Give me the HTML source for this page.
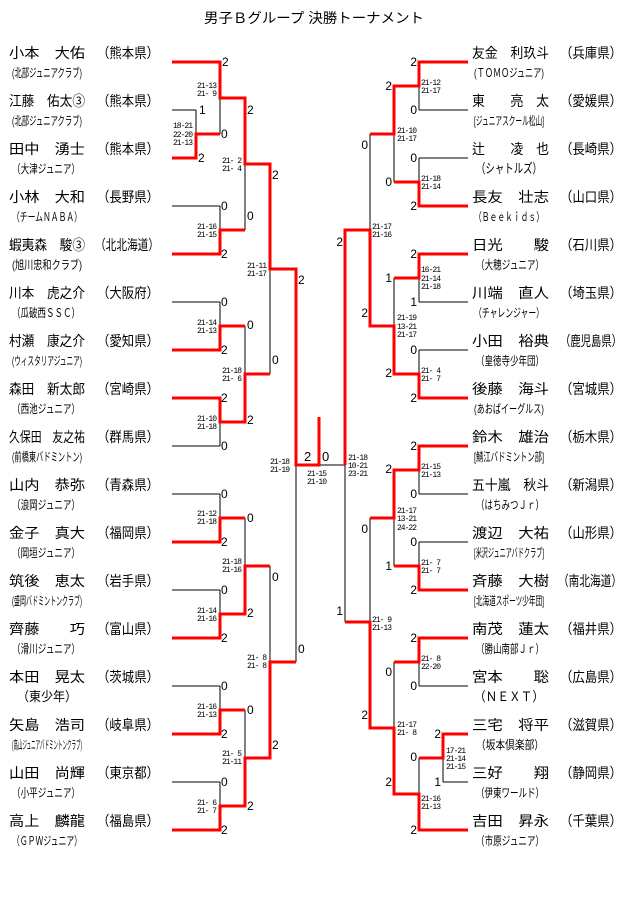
<!DOCTYPE html>
<html><head><meta charset="utf-8"><style>
html,body{margin:0;padding:0;background:#fff;}
svg{display:block;}
.n{font-family:"Liberation Sans","Noto Sans CJK JP",sans-serif;font-size:14px;fill:#000;}
.a{font-family:"Liberation Sans","Noto Sans CJK JP",sans-serif;font-size:12px;fill:#000;}
.d{font-family:"Liberation Sans",sans-serif;font-size:12px;fill:#000;}
.m{font-family:"Liberation Mono",monospace;font-size:8px;fill:#000;}
.r{stroke:#ff0000;stroke-width:3;fill:none;}
.b{stroke:#000;stroke-width:1;fill:none;}
</style></head><body>
<svg width="640" height="905" viewBox="0 0 640 905" xmlns="http://www.w3.org/2000/svg">
<text class="n" x="204" y="23" font-size="13" textLength="220" lengthAdjust="spacingAndGlyphs">男子Ｂグループ 決勝トーナメント</text>

<g class="n">
<text x="9" y="58" textLength="76" lengthAdjust="spacingAndGlyphs">小本　大佑</text><text x="97" y="58" textLength="62" lengthAdjust="spacingAndGlyphs">（熊本県）</text>
<text x="9" y="106" textLength="76" lengthAdjust="spacingAndGlyphs">江藤　佑太③</text><text x="97" y="106" textLength="62" lengthAdjust="spacingAndGlyphs">（熊本県）</text>
<text x="9" y="154" textLength="76" lengthAdjust="spacingAndGlyphs">田中　湧士</text><text x="97" y="154" textLength="62" lengthAdjust="spacingAndGlyphs">（熊本県）</text>
<text x="9" y="202" textLength="76" lengthAdjust="spacingAndGlyphs">小林　大和</text><text x="97" y="202" textLength="62" lengthAdjust="spacingAndGlyphs">（長野県）</text>
<text x="9" y="250" textLength="76" lengthAdjust="spacingAndGlyphs">蝦夷森　駿③</text><text x="95" y="250" textLength="64" lengthAdjust="spacingAndGlyphs">（北北海道）</text>
<text x="9" y="298" textLength="76" lengthAdjust="spacingAndGlyphs">川本　虎之介</text><text x="97" y="298" textLength="62" lengthAdjust="spacingAndGlyphs">（大阪府）</text>
<text x="9" y="346" textLength="76" lengthAdjust="spacingAndGlyphs">村瀬　康之介</text><text x="97" y="346" textLength="62" lengthAdjust="spacingAndGlyphs">（愛知県）</text>
<text x="9" y="394" textLength="76" lengthAdjust="spacingAndGlyphs">森田　新太郎</text><text x="97" y="394" textLength="62" lengthAdjust="spacingAndGlyphs">（宮崎県）</text>
<text x="9" y="442" textLength="76" lengthAdjust="spacingAndGlyphs">久保田　友之祐</text><text x="97" y="442" textLength="62" lengthAdjust="spacingAndGlyphs">（群馬県）</text>
<text x="9" y="490" textLength="76" lengthAdjust="spacingAndGlyphs">山内　恭弥</text><text x="97" y="490" textLength="62" lengthAdjust="spacingAndGlyphs">（青森県）</text>
<text x="9" y="538" textLength="76" lengthAdjust="spacingAndGlyphs">金子　真大</text><text x="97" y="538" textLength="62" lengthAdjust="spacingAndGlyphs">（福岡県）</text>
<text x="9" y="586" textLength="76" lengthAdjust="spacingAndGlyphs">筑後　恵太</text><text x="97" y="586" textLength="62" lengthAdjust="spacingAndGlyphs">（岩手県）</text>
<text x="9" y="634" textLength="76" lengthAdjust="spacingAndGlyphs">齊藤　　巧</text><text x="97" y="634" textLength="62" lengthAdjust="spacingAndGlyphs">（富山県）</text>
<text x="9" y="682" textLength="76" lengthAdjust="spacingAndGlyphs">本田　晃太</text><text x="97" y="682" textLength="62" lengthAdjust="spacingAndGlyphs">（茨城県）</text>
<text x="9" y="730" textLength="76" lengthAdjust="spacingAndGlyphs">矢島　浩司</text><text x="97" y="730" textLength="62" lengthAdjust="spacingAndGlyphs">（岐阜県）</text>
<text x="9" y="778" textLength="76" lengthAdjust="spacingAndGlyphs">山田　尚輝</text><text x="97" y="778" textLength="62" lengthAdjust="spacingAndGlyphs">（東京都）</text>
<text x="9" y="826" textLength="76" lengthAdjust="spacingAndGlyphs">高上　麟龍</text><text x="97" y="826" textLength="62" lengthAdjust="spacingAndGlyphs">（福島県）</text>
</g>
<g class="a">
<text x="12" y="77" textLength="70" lengthAdjust="spacingAndGlyphs">(北部ジュニアクラブ)</text>
<text x="12" y="125" textLength="70" lengthAdjust="spacingAndGlyphs">(北部ジュニアクラブ)</text>
<text x="12" y="173" textLength="68" lengthAdjust="spacingAndGlyphs">（大津ジュニア）</text>
<text x="12" y="221" textLength="70" lengthAdjust="spacingAndGlyphs">（チームＮＡＢＡ）</text>
<text x="12" y="269" textLength="70" lengthAdjust="spacingAndGlyphs">(旭川忠和クラブ)</text>
<text x="12" y="317" textLength="68" lengthAdjust="spacingAndGlyphs">（瓜破西ＳＳＣ）</text>
<text x="12" y="365" textLength="70" lengthAdjust="spacingAndGlyphs">(ウィスタリアジュニア)</text>
<text x="12" y="413" textLength="68" lengthAdjust="spacingAndGlyphs">（西池ジュニア）</text>
<text x="12" y="461" textLength="70" lengthAdjust="spacingAndGlyphs">(前橋東バドミントン)</text>
<text x="12" y="509" textLength="68" lengthAdjust="spacingAndGlyphs">（浪岡ジュニア）</text>
<text x="12" y="557" textLength="68" lengthAdjust="spacingAndGlyphs">（岡垣ジュニア）</text>
<text x="12" y="605" textLength="70" lengthAdjust="spacingAndGlyphs">(盛岡バドミントンクラブ)</text>
<text x="12" y="653" textLength="68" lengthAdjust="spacingAndGlyphs">（滑川ジュニア）</text>
<text x="17" y="701" textLength="60" lengthAdjust="spacingAndGlyphs" font-size="13">（東少年）</text>
<text x="12" y="749" textLength="70" lengthAdjust="spacingAndGlyphs">(高山ジュニアバドミントンクラブ)</text>
<text x="12" y="797" textLength="68" lengthAdjust="spacingAndGlyphs">（小平ジュニア）</text>
<text x="12" y="845" textLength="70" lengthAdjust="spacingAndGlyphs">（ＧＰＷジュニア）</text>
</g>

<g class="n">
<text x="472" y="58" textLength="77" lengthAdjust="spacingAndGlyphs">友金　利玖斗</text><text x="560" y="58" textLength="62" lengthAdjust="spacingAndGlyphs">（兵庫県）</text>
<text x="472" y="106" textLength="77" lengthAdjust="spacingAndGlyphs">東　　亮　太</text><text x="560" y="106" textLength="62" lengthAdjust="spacingAndGlyphs">（愛媛県）</text>
<text x="472" y="154" textLength="77" lengthAdjust="spacingAndGlyphs">辻　　凌　也</text><text x="560" y="154" textLength="62" lengthAdjust="spacingAndGlyphs">（長崎県）</text>
<text x="472" y="202" textLength="77" lengthAdjust="spacingAndGlyphs">長友　壮志</text><text x="560" y="202" textLength="62" lengthAdjust="spacingAndGlyphs">（山口県）</text>
<text x="472" y="250" textLength="77" lengthAdjust="spacingAndGlyphs">日光　　駿</text><text x="560" y="250" textLength="62" lengthAdjust="spacingAndGlyphs">（石川県）</text>
<text x="472" y="298" textLength="77" lengthAdjust="spacingAndGlyphs">川端　直人</text><text x="560" y="298" textLength="62" lengthAdjust="spacingAndGlyphs">（埼玉県）</text>
<text x="472" y="346" textLength="77" lengthAdjust="spacingAndGlyphs">小田　裕典</text><text x="560" y="346" textLength="62" lengthAdjust="spacingAndGlyphs">（鹿児島県）</text>
<text x="472" y="394" textLength="77" lengthAdjust="spacingAndGlyphs">後藤　海斗</text><text x="560" y="394" textLength="62" lengthAdjust="spacingAndGlyphs">（宮城県）</text>
<text x="472" y="442" textLength="77" lengthAdjust="spacingAndGlyphs">鈴木　雄治</text><text x="560" y="442" textLength="62" lengthAdjust="spacingAndGlyphs">（栃木県）</text>
<text x="472" y="490" textLength="77" lengthAdjust="spacingAndGlyphs">五十嵐　秋斗</text><text x="560" y="490" textLength="62" lengthAdjust="spacingAndGlyphs">（新潟県）</text>
<text x="472" y="538" textLength="77" lengthAdjust="spacingAndGlyphs">渡辺　大祐</text><text x="560" y="538" textLength="62" lengthAdjust="spacingAndGlyphs">（山形県）</text>
<text x="472" y="586" textLength="77" lengthAdjust="spacingAndGlyphs">斉藤　大樹</text><text x="558" y="586" textLength="64" lengthAdjust="spacingAndGlyphs">（南北海道）</text>
<text x="472" y="634" textLength="77" lengthAdjust="spacingAndGlyphs">南茂　蓮太</text><text x="560" y="634" textLength="62" lengthAdjust="spacingAndGlyphs">（福井県）</text>
<text x="472" y="682" textLength="77" lengthAdjust="spacingAndGlyphs">宮本　　聡</text><text x="560" y="682" textLength="62" lengthAdjust="spacingAndGlyphs">（広島県）</text>
<text x="472" y="730" textLength="77" lengthAdjust="spacingAndGlyphs">三宅　将平</text><text x="560" y="730" textLength="62" lengthAdjust="spacingAndGlyphs">（滋賀県）</text>
<text x="472" y="778" textLength="77" lengthAdjust="spacingAndGlyphs">三好　　翔</text><text x="560" y="778" textLength="62" lengthAdjust="spacingAndGlyphs">（静岡県）</text>
<text x="472" y="826" textLength="77" lengthAdjust="spacingAndGlyphs">吉田　昇永</text><text x="560" y="826" textLength="62" lengthAdjust="spacingAndGlyphs">（千葉県）</text>
</g>
<g class="a">
<text x="474" y="77" textLength="70" lengthAdjust="spacingAndGlyphs">(ＴＯＭＯジュニア)</text>
<text x="474" y="125" textLength="70" lengthAdjust="spacingAndGlyphs">[ジュニアスクール松山]</text>
<text x="476" y="173" textLength="66" lengthAdjust="spacingAndGlyphs" font-size="13">（シャトルズ）</text>
<text x="474" y="221" textLength="70" lengthAdjust="spacingAndGlyphs">（Ｂｅｅｋｉｄｓ）</text>
<text x="476" y="269" textLength="68" lengthAdjust="spacingAndGlyphs">（大穂ジュニア）</text>
<text x="474" y="317" textLength="70" lengthAdjust="spacingAndGlyphs">（チャレンジャー）</text>
<text x="476" y="365" textLength="68" lengthAdjust="spacingAndGlyphs">（皇徳寺少年団）</text>
<text x="474" y="413" textLength="70" lengthAdjust="spacingAndGlyphs">(あおばイーグルス)</text>
<text x="474" y="461" textLength="70" lengthAdjust="spacingAndGlyphs">[鯖江バドミントン部]</text>
<text x="476" y="509" textLength="68" lengthAdjust="spacingAndGlyphs">（はちみつＪｒ）</text>
<text x="474" y="557" textLength="70" lengthAdjust="spacingAndGlyphs">[米沢ジュニアバドクラブ]</text>
<text x="474" y="605" textLength="70" lengthAdjust="spacingAndGlyphs">[北海道スポーツ少年団]</text>
<text x="476" y="653" textLength="68" lengthAdjust="spacingAndGlyphs">（勝山南部Ｊｒ）</text>
<text x="474" y="701" textLength="70" lengthAdjust="spacingAndGlyphs" font-size="13">（ＮＥＸＴ）</text>
<text x="476" y="749" textLength="68" lengthAdjust="spacingAndGlyphs">（坂本倶楽部）</text>
<text x="476" y="797" textLength="68" lengthAdjust="spacingAndGlyphs">（伊東ワールド）</text>
<text x="476" y="845" textLength="68" lengthAdjust="spacingAndGlyphs">（市原ジュニア）</text>
</g>

<path class="b" d="M172 110H196 M172 206H220 M172 302H220 M172 446H220 M172 494H220 M172 590H220 M172 686H220 M172 782H220
M196 110V134 M220 98V134 M220 206V230 M220 302V326 M220 422V446 M220 494V518 M220 590V614 M220 686V710 M220 782V806
M245 164V230 M245 326V374 M245 518V566 M245 710V758 M270 269V374 M270 566V662 M296 465V662 M319 465H345"/>
<path class="r" d="M172 62H220V98H245V164H270V269H296V465H319V417
M172 158H196V134H220
M172 254H220V230H245
M172 350H220V326H245
M172 398H220V422H245V374H270
M172 542H220V518H245
M172 638H220V614H245V566H270
M172 734H220V710H245
M172 830H220V806H245V758H270V662H296"/>

<path class="b" d="M419 110H468 M419 158H468 M419 302H468 M419 350H468 M419 494H468 M419 542H468 M419 686H468 M443 782H468
M419 86V110 M419 158V182 M419 278V302 M419 350V374 M419 470V494 M419 542V566 M419 662V686 M443 758V782 M419 758V794
M394 134V182 M394 278V326 M394 518V566 M394 662V728 M370 134V230 M370 518V622 M345 465V622"/>
<path class="r" d="M468 62H419V86H394V134H370
M468 206H419V182H394
M468 254H419V278H394
M468 398H419V374H394V326H370V230H345V465
M468 446H419V470H394V518H370
M468 590H419V566H394
M468 638H419V662H394
M468 734H443V758H419
M468 830H419V794H394V728H370V622H345"/>

<g class="d">
<text x="222" y="66">2</text><text x="199" y="114">1</text><text x="198" y="162">2</text><text x="221" y="138">0</text>
<text x="221" y="210">0</text><text x="221" y="258">2</text><text x="221" y="306">0</text><text x="221" y="354">2</text>
<text x="221" y="402">2</text><text x="221" y="450">0</text><text x="221" y="498">0</text><text x="221" y="546">2</text>
<text x="221" y="594">0</text><text x="221" y="642">2</text><text x="221" y="690">0</text><text x="221" y="738">2</text>
<text x="221" y="786">0</text><text x="221" y="834">2</text>
<text x="247" y="114">2</text><text x="247" y="220">0</text><text x="247" y="329">0</text><text x="247" y="424">2</text>
<text x="247" y="522">0</text><text x="247" y="617">2</text><text x="247" y="714">0</text><text x="247" y="810">2</text>
<text x="272" y="179">2</text><text x="272" y="364">0</text><text x="272" y="581">0</text><text x="272" y="749">2</text>
<text x="298" y="284">2</text><text x="298" y="653">0</text>
<text x="304" y="461" font-size="13">2</text><text x="322" y="461" font-size="13">0</text>
</g>
<g class="d" text-anchor="end">
<text x="417" y="66">2</text><text x="417" y="114">0</text><text x="417" y="162">0</text><text x="417" y="210">2</text>
<text x="417" y="258">2</text><text x="417" y="306">1</text><text x="417" y="354">0</text><text x="417" y="402">2</text>
<text x="417" y="450">2</text><text x="417" y="498">0</text><text x="417" y="546">0</text><text x="417" y="594">2</text>
<text x="417" y="642">2</text><text x="417" y="690">0</text><text x="441" y="738">2</text><text x="441" y="786">1</text>
<text x="417" y="761">0</text><text x="417" y="834">2</text>
<text x="392" y="90">2</text><text x="392" y="186">0</text><text x="392" y="282">1</text><text x="392" y="377">2</text>
<text x="392" y="473">2</text><text x="392" y="570">1</text><text x="392" y="676">0</text><text x="392" y="786">2</text>
<text x="368" y="149">0</text><text x="368" y="317">2</text><text x="368" y="533">0</text><text x="368" y="719">2</text>
<text x="343" y="246">2</text><text x="343" y="615">1</text>
</g>

<g class="m" text-anchor="end">
<text x="217" y="88" textLength="20">21-13</text><text x="217" y="96" textLength="20">21- 9</text>
<text x="193" y="128" textLength="20">18-21</text><text x="193" y="137" textLength="20">22-20</text><text x="193" y="145" textLength="20">21-13</text>
<text x="242" y="163" textLength="20">21- 2</text><text x="242" y="171" textLength="20">21- 4</text>
<text x="217" y="229" textLength="20">21-16</text><text x="217" y="237" textLength="20">21-15</text>
<text x="267" y="268" textLength="20">21-11</text><text x="267" y="276" textLength="20">21-17</text>
<text x="217" y="325" textLength="20">21-14</text><text x="217" y="333" textLength="20">21-13</text>
<text x="242" y="373" textLength="20">21-18</text><text x="242" y="381" textLength="20">21- 6</text>
<text x="217" y="421" textLength="20">21-10</text><text x="217" y="429" textLength="20">21-18</text>
<text x="290" y="464" textLength="20">21-18</text><text x="290" y="472" textLength="20">21-19</text>
<text x="217" y="516" textLength="20">21-12</text><text x="217" y="524" textLength="20">21-18</text>
<text x="242" y="564" textLength="20">21-18</text><text x="242" y="572" textLength="20">21-16</text>
<text x="217" y="613" textLength="20">21-14</text><text x="217" y="621" textLength="20">21-16</text>
<text x="267" y="660" textLength="20">21- 8</text><text x="267" y="668" textLength="20">21- 8</text>
<text x="217" y="709" textLength="20">21-16</text><text x="217" y="717" textLength="20">21-13</text>
<text x="242" y="756" textLength="20">21- 5</text><text x="242" y="764" textLength="20">21-11</text>
<text x="217" y="805" textLength="20">21- 6</text><text x="217" y="813" textLength="20">21- 7</text>
</g>
<g class="m">
<text x="307" y="476" textLength="20">21-15</text><text x="307" y="484" textLength="20">21-10</text>
<text x="348" y="460" textLength="20">21-18</text><text x="348" y="468" textLength="20">10-21</text><text x="348" y="476" textLength="20">23-21</text>
<text x="421" y="85" textLength="20">21-12</text><text x="421" y="93" textLength="20">21-17</text>
<text x="397" y="133" textLength="20">21-10</text><text x="397" y="141" textLength="20">21-17</text>
<text x="421" y="181" textLength="20">21-18</text><text x="421" y="189" textLength="20">21-14</text>
<text x="372" y="229" textLength="20">21-17</text><text x="372" y="237" textLength="20">21-16</text>
<text x="421" y="272" textLength="20">16-21</text><text x="421" y="281" textLength="20">21-14</text><text x="421" y="289" textLength="20">21-18</text>
<text x="397" y="320" textLength="20">21-19</text><text x="397" y="329" textLength="20">13-21</text><text x="397" y="337" textLength="20">21-17</text>
<text x="421" y="373" textLength="20">21- 4</text><text x="421" y="381" textLength="20">21- 7</text>
<text x="421" y="469" textLength="20">21-15</text><text x="421" y="477" textLength="20">21-13</text>
<text x="397" y="513" textLength="20">21-17</text><text x="397" y="521" textLength="20">13-21</text><text x="397" y="530" textLength="20">24-22</text>
<text x="421" y="565" textLength="20">21- 7</text><text x="421" y="573" textLength="20">21- 7</text>
<text x="372" y="622" textLength="20">21- 9</text><text x="372" y="630" textLength="20">21-13</text>
<text x="421" y="661" textLength="20">21- 8</text><text x="421" y="669" textLength="20">22-20</text>
<text x="397" y="727" textLength="20">21-17</text><text x="397" y="735" textLength="20">21- 8</text>
<text x="446" y="753" textLength="20">17-21</text><text x="446" y="761" textLength="20">21-14</text><text x="446" y="769" textLength="20">21-15</text>
<text x="421" y="801" textLength="20">21-16</text><text x="421" y="809" textLength="20">21-13</text>
</g>
</svg>
</body></html>
